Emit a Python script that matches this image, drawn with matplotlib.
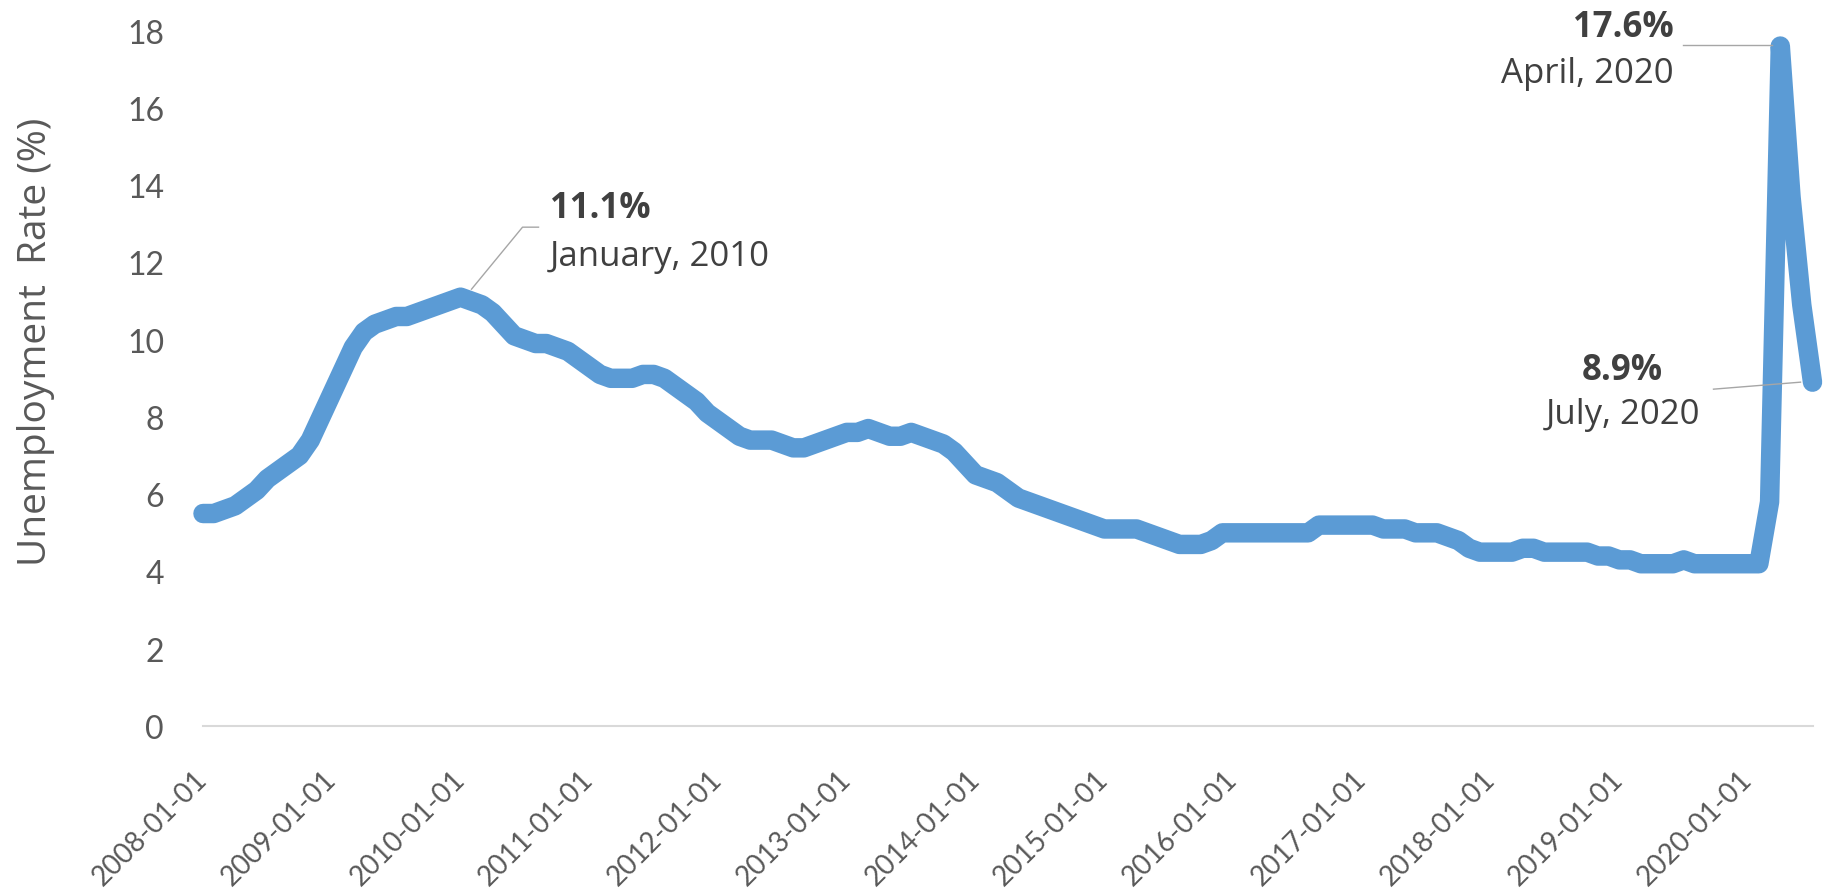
import numpy as np
import matplotlib
matplotlib.use("Agg")
import matplotlib.pyplot as plt

# ---------------- data ----------------
rate_2008 = [5.5, 5.5, 5.6, 5.7, 5.9, 6.1, 6.4, 6.6, 6.8, 7.0, 7.4, 8.0]
rate_2009 = [8.6, 9.2, 9.8, 10.2, 10.4, 10.5, 10.6, 10.6, 10.7, 10.8, 10.9, 11.0]
rate_2010 = [11.1, 11.0, 10.9, 10.7, 10.4, 10.1, 10.0, 9.9, 9.9, 9.8, 9.7, 9.5]
rate_2011 = [9.3, 9.1, 9.0, 9.0, 9.0, 9.1, 9.1, 9.0, 8.8, 8.6, 8.4, 8.1]
rate_2012 = [7.9, 7.7, 7.5, 7.4, 7.4, 7.4, 7.3, 7.2, 7.2, 7.3, 7.4, 7.5]
rate_2013 = [7.6, 7.6, 7.7, 7.6, 7.5, 7.5, 7.6, 7.5, 7.4, 7.3, 7.1, 6.8]
rate_2014 = [6.5, 6.4, 6.3, 6.1, 5.9, 5.8, 5.7, 5.6, 5.5, 5.4, 5.3, 5.2]
rate_2015 = [5.1, 5.1, 5.1, 5.1, 5.0, 4.9, 4.8, 4.7, 4.7, 4.7, 4.8, 5.0]
rate_2016 = [5.0, 5.0, 5.0, 5.0, 5.0, 5.0, 5.0, 5.0, 5.2, 5.2, 5.2, 5.2]
rate_2017 = [5.2, 5.2, 5.1, 5.1, 5.1, 5.0, 5.0, 5.0, 4.9, 4.8, 4.6, 4.5]
rate_2018 = [4.5, 4.5, 4.5, 4.6, 4.6, 4.5, 4.5, 4.5, 4.5, 4.5, 4.4, 4.4]
rate_2019 = [4.3, 4.3, 4.2, 4.2, 4.2, 4.2, 4.3, 4.2, 4.2, 4.2, 4.2, 4.2]
rate_2020 = [4.2, 4.2, 5.8, 17.6, 13.7, 10.9, 8.9]

rate = (rate_2008 + rate_2009 + rate_2010 + rate_2011 + rate_2012 + rate_2013 +
        rate_2014 + rate_2015 + rate_2016 + rate_2017 + rate_2018 + rate_2019 + rate_2020)

tick_labels = ["2008-01-01", "2009-01-01", "2010-01-01", "2011-01-01", "2012-01-01",
               "2013-01-01", "2014-01-01", "2015-01-01", "2016-01-01", "2017-01-01",
               "2018-01-01", "2019-01-01", "2020-01-01"]
months_per_tick = 12

y_ticks = [0, 2, 4, 6, 8, 10, 12, 14, 16, 18]

callouts = [  # (index, value text, date text)
    (24, "11.1%", "January, 2010"),
    (147, "17.6%", "April, 2020"),
    (150, "8.9%", "July, 2020"),
]

# ---------------- style ----------------
LINE_C = "#5B9BD5"
TEXT_C = "#595959"
ANN_C = "#404040"
LEAD_C = "#A6A6A6"

W, H = 1823, 895
fig = plt.figure(figsize=(W / 100, H / 100), dpi=100)
ax = fig.add_axes([203 / W, (H - 727) / H, 1609.5 / W, (727 - 31.6) / H])

x = np.arange(len(rate))
ax.plot(x, rate, color=LINE_C, lw=14, solid_capstyle="round",
        solid_joinstyle="round", clip_on=False, zorder=3)

ax.set_xlim(0, len(rate) - 1)
ax.set_ylim(0, 18)

for s in ["top", "right", "left"]:
    ax.spines[s].set_visible(False)
ax.spines["bottom"].set_color("#D9D9D9")
ax.spines["bottom"].set_linewidth(1.5)

ax.set_yticks(y_ticks)
ax.set_yticklabels([str(v) for v in y_ticks], fontfamily="Lato", fontsize=23, color=TEXT_C)
ax.tick_params(axis="y", length=0, pad=28)

ax.set_xticks(np.arange(len(tick_labels)) * months_per_tick)
ax.set_xticklabels(tick_labels, fontfamily="Lato", fontsize=20, color=TEXT_C,
                   rotation=45, ha="right", va="center", rotation_mode="anchor")
ax.tick_params(axis="x", length=0, pad=35)

fig.text(36 / W, 1 - 342 / H, "Unemployment  Rate (%)", rotation=90,
         ha="center", va="center", fontfamily="Open Sans", fontsize=28, color=TEXT_C)

# ---------------- callouts ----------------
fig.canvas.draw()


def px_point(i):
    return ax.transData.transform((i, rate[i]))


def leader(i, offsets):
    px, py = px_point(i)
    pts = np.array([(px + dx, py + dy) for dx, dy in offsets])
    data = ax.transData.inverted().transform(pts)
    ax.plot(data[:, 0], data[:, 1], color=LEAD_C, lw=1.0, clip_on=False, zorder=4)


def label(i, dx, dy, txt, bold, ha):
    ax.annotate(txt, xy=(i, rate[i]), xytext=(dx, dy), textcoords="offset pixels",
                ha=ha, va="baseline", fontfamily="Open Sans", fontsize=25,
                fontweight="bold" if bold else "normal", color=ANN_C,
                annotation_clip=False, zorder=5)


# January 2010
i0, v0, d0 = callouts[0]
leader(i0, [(11, 8), (62, 70), (78, 70)])
label(i0, 89, 80, v0, True, "left")
label(i0, 89, 32, d0, False, "left")

# April 2020
i1, v1, d1 = callouts[1]
leader(i1, [(-97, 1), (-8, 1)])
label(i1, -107, 10, v1, True, "right")
label(i1, -107, -36, d1, False, "right")

# July 2020
i2, v2, d2 = callouts[2]
leader(i2, [(-99, -7), (-12, 0)])
label(i2, -190, 3, v2, True, "center")
label(i2, -190, -41, d2, False, "center")

fig.savefig("out.png", dpi=100, facecolor="white")
